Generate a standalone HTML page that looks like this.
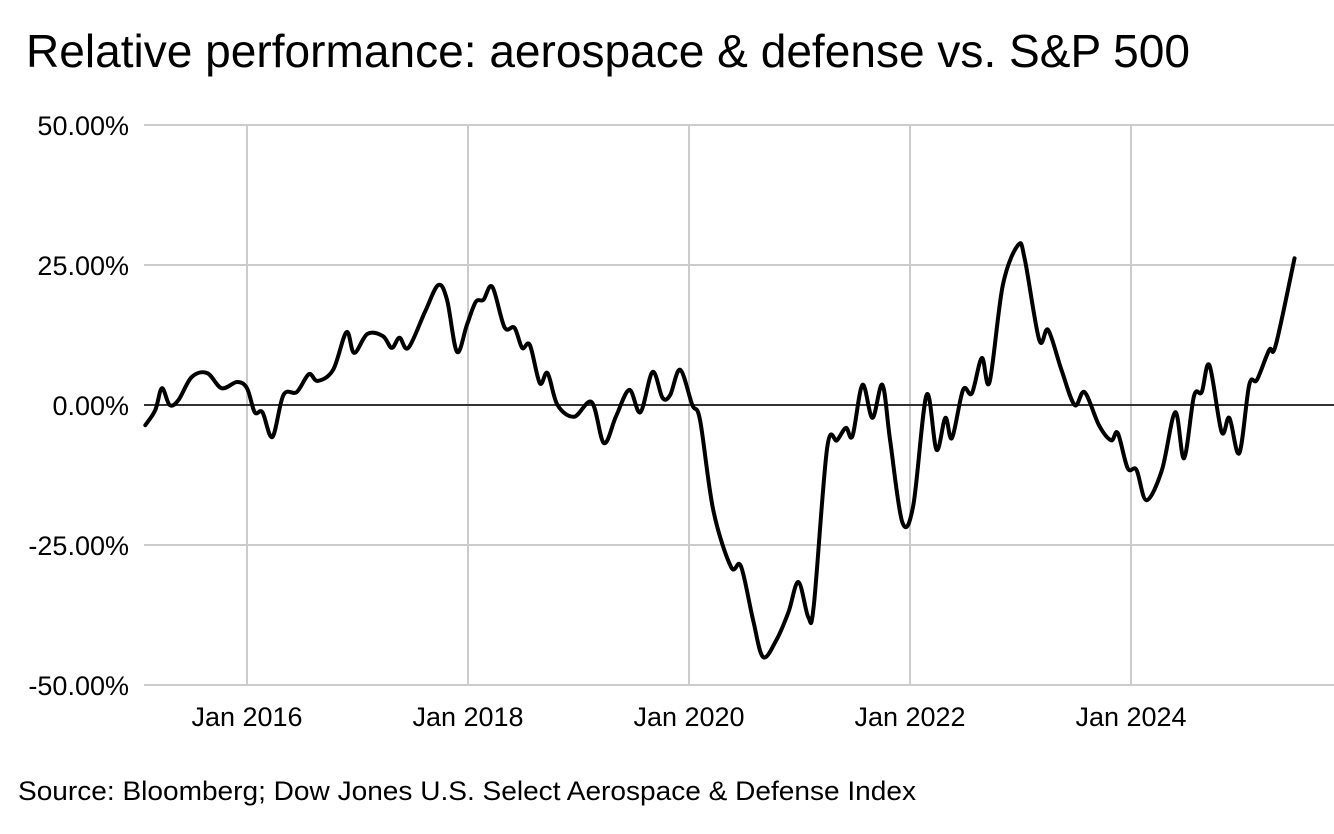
<!DOCTYPE html>
<html><head><meta charset="utf-8"><style>
html,body{margin:0;padding:0;background:#fff;width:1334px;height:834px;overflow:hidden;font-family:"Liberation Sans",Arial,sans-serif;}
</style></head><body>
<svg id="chart" width="1334" height="834" xmlns="http://www.w3.org/2000/svg" font-family="Liberation Sans, Arial, sans-serif">
<text x="26" y="67" font-size="46" fill="#000" textLength="1164" lengthAdjust="spacingAndGlyphs">Relative performance: aerospace &amp; defense vs. S&amp;P 500</text>
<g id="grid"></g><g id="axes"></g><g id="series"></g>
<text x="18" y="800" font-size="27" fill="#000" textLength="898" lengthAdjust="spacingAndGlyphs">Source: Bloomberg; Dow Jones U.S. Select Aerospace &amp; Defense Index</text>
</svg>
<script>
const yTicks=[50,25,0,-25,-50];
const yTickLabels=["50.00%","25.00%","0.00%","-25.00%","-50.00%"];
const xTicks=[2016,2018,2020,2022,2024];
const xTickLabels=["Jan 2016","Jan 2018","Jan 2020","Jan 2022","Jan 2024"];
const dates=[2015.08,2015.17,2015.23,2015.30,2015.38,2015.50,2015.64,2015.77,2015.91,2016.0,2016.07,2016.14,2016.23,2016.33,2016.45,2016.56,2016.64,2016.78,2016.90,2016.97,2017.09,2017.23,2017.31,2017.38,2017.46,2017.61,2017.73,2017.81,2017.90,2017.99,2018.07,2018.14,2018.22,2018.33,2018.42,2018.49,2018.56,2018.65,2018.72,2018.81,2018.96,2019.12,2019.23,2019.34,2019.46,2019.56,2019.67,2019.76,2019.83,2019.92,2020.03,2020.10,2020.22,2020.38,2020.47,2020.58,2020.67,2020.79,2020.90,2020.99,2021.08,2021.13,2021.25,2021.34,2021.42,2021.48,2021.57,2021.66,2021.75,2021.82,2021.93,2022.03,2022.15,2022.24,2022.32,2022.38,2022.48,2022.56,2022.65,2022.72,2022.84,2022.98,2023.04,2023.17,2023.25,2023.37,2023.49,2023.58,2023.71,2023.82,2023.88,2023.97,2024.05,2024.14,2024.28,2024.40,2024.48,2024.57,2024.64,2024.71,2024.82,2024.89,2024.98,2025.07,2025.14,2025.25,2025.31,2025.48];
const values=[-3.6,-0.9,3.0,0,0.9,5.0,5.7,3.0,4.1,3.0,-1.3,-1.3,-5.7,1.8,2.3,5.5,4.3,6.3,13.0,9.3,12.7,12.3,10.2,12.0,10.2,16.6,21.4,18.8,9.5,14.3,18.4,18.8,21.1,13.9,13.8,10.2,10.7,3.9,5.7,0,-2.1,0.5,-6.8,-2.0,2.7,-1.3,5.9,1.3,1.8,6.3,0,-2.7,-18.8,-28.9,-28.8,-38.4,-45,-42,-37,-31.6,-37.9,-35.7,-7.7,-6.3,-4.1,-5.5,3.6,-2.3,3.6,-6.3,-20.9,-17.9,1.8,-8.0,-2.3,-5.9,2.7,2.1,8.4,4.1,21.4,28.6,25.9,11.6,13.4,6.3,0,2.3,-3.6,-6.3,-5.0,-11.3,-11.6,-17,-11.6,-1.3,-9.5,1.6,2.3,7.1,-4.8,-2.3,-8.6,3.6,4.5,9.8,10.7,26.2];
const X0=144,X1=1334,Y0=685,Y1=125;
const d0=2016-(247-X0)/110.5, d1=2016+(X1-247)/110.5;
function xs(d){return X0+(d-d0)/(d1-d0)*(X1-X0);}
function ys(v){return 405-v/25*140;}
const NS="http://www.w3.org/2000/svg";
function mk(t,a,p){const e=document.createElementNS(NS,t);for(const k in a)e.setAttribute(k,a[k]);p.appendChild(e);return e;}
const grid=document.getElementById('grid'),axes=document.getElementById('axes'),ser=document.getElementById('series');
yTicks.forEach((v,i)=>{
  if(v!==0){const l=mk('line',{x1:X0,x2:X1,y1:ys(v),y2:ys(v),stroke:'#cccccc','stroke-width':2},grid);
  
  }
  const t=mk('text',{x:129,y:ys(v)+10,'font-size':27,'text-anchor':'end',fill:'#000'},axes);t.textContent=yTickLabels[i];
  
  
});
xTicks.forEach((d,i)=>{
  const l=mk('line',{x1:xs(d),x2:xs(d),y1:Y1,y2:Y0,stroke:'#cccccc','stroke-width':2},grid);
  
  
  const t=mk('text',{x:xs(d),y:726,'font-size':27,'text-anchor':'middle',fill:'#000'},axes);t.textContent=xTickLabels[i];
  
  
});
const bl=mk('line',{x1:X0,x2:X1,y1:Y0,y2:Y0,stroke:'#cccccc','stroke-width':2},grid);


const zl=mk('line',{x1:X0,x2:X1,y1:ys(0),y2:ys(0),stroke:'#333','stroke-width':2},axes);


const P=dates.map((d,i)=>[xs(d),ys(values[i])]);
let s='M'+P[0][0]+','+P[0][1];
for(let i=0;i<P.length-1;i++){
  const p0=P[Math.max(0,i-1)],p1=P[i],p2=P[i+1],p3=P[Math.min(P.length-1,i+2)];
  const c1=[p1[0]+(p2[0]-p0[0])/6,p1[1]+(p2[1]-p0[1])/6],c2=[p2[0]-(p3[0]-p1[0])/6,p2[1]-(p3[1]-p1[1])/6];
  s+=` C${c1[0]},${c1[1]} ${c2[0]},${c2[1]} ${p2[0]},${p2[1]}`;
}
const line=mk('path',{d:s,fill:'none',stroke:'#000','stroke-width':4,'stroke-linejoin':'round','stroke-linecap':'round'},ser);


</script>
</body></html>
